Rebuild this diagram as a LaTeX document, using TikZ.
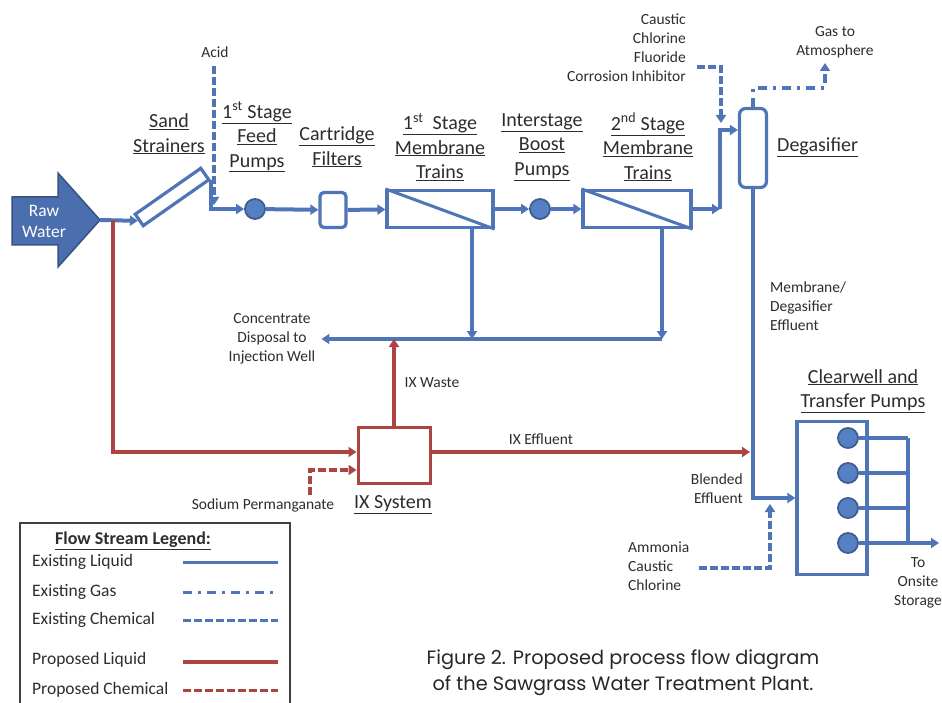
\documentclass[tikz,border=0pt]{standalone}
\usepackage{fontspec}
\setmainfont{Carlito}
\newfontfamily\capfont{Poppins}
\usetikzlibrary{arrows.meta,calc}
\definecolor{flowblue}{RGB}{79,116,184}
\definecolor{pumpblue}{RGB}{86,128,196}
\definecolor{flowred}{RGB}{172,68,66}
\definecolor{txtgray}{RGB}{45,45,45}
\tikzset{
    tip/.style={-{Triangle[length=8pt,width=10pt]}},
    liquid/.style={draw=flowblue,line width=4pt},
    gas/.style={draw=flowblue,line width=4pt,dash pattern=on 9pt off 6pt on 3pt off 6pt},
    chem/.style={draw=flowblue,line width=4pt,dash pattern=on 8pt off 3pt},
    propliq/.style={draw=flowred,line width=4pt},
    propchem/.style={draw=flowred,line width=4pt,dash pattern=on 8pt off 3pt},
    pump/.style={circle,draw=flowblue!80!black,fill=pumpblue,line width=1.8pt,minimum size=20pt,inner sep=0pt},
    unitbox/.style={draw=flowblue,fill=white,line width=3.2pt,inner sep=0pt},
    unitlbl/.style={font=\fontsize{20}{24.5}\selectfont,text=txtgray,align=center,inner sep=0pt},
    smalllbl/.style={font=\fontsize{15.5}{19}\selectfont,text=txtgray,align=center,inner sep=0pt},
    legendlbl/.style={font=\fontsize{17.5}{19}\selectfont,text=txtgray,anchor=west,inner sep=0pt},
  }

\begin{document}
\begin{tikzpicture}[x=1pt,y=-1pt]
  \useasboundingbox (0,0) rectangle (942,703);

  %RAW WATER
  \draw[draw=flowblue!70!black,fill=flowblue!95!black,line width=1.5pt]
      (12,197) -- (58,197) -- (58,173) -- (100,220) -- (58,267) -- (58,245) -- (12,245) -- cycle;
  \coordinate (rawtip) at (100,220);
  \coordinate (split) at (113,220);
  \node[font=\fontsize{17.5}{21}\selectfont,align=center,inner sep=0pt,text=white] (rawlbl) at (44,221) {Raw\\Water};

  %UNITS ON THE MAIN LINE
  \node[unitbox,rotate=35,minimum width=80pt,minimum height=14pt] (strainer) at (172,197) {};
  \node[pump] (feedpump) at (255,209) {};
  \node[unitbox,rounded corners=4pt,minimum width=26pt,minimum height=35pt] (cartridge) at (333,210) {};
  \node[unitbox,minimum width=106pt,minimum height=37pt] (memA) at (440,209) {};
  \draw[flowblue,line width=3pt] (memA.north west) -- (memA.south east);
  \node[pump] (boost) at (540,209) {};
  \node[unitbox,minimum width=108pt,minimum height=37pt] (memB) at (637,209) {};
  \draw[flowblue,line width=3pt] (memB.north west) -- (memB.south east);
  \node[unitbox,rounded corners=6pt,minimum width=27pt,minimum height=79pt] (degas) at (753,148) {};

  %LABELS OF THE UNITS
  \node[unitlbl] (strainlbl) at (169,134) {\underline{Sand}\\\underline{Strainers}};
  \node[unitlbl] (feedlbl) at (257,137) {\underline{1\textsuperscript{st} Stage}\\\underline{Feed}\\\underline{Pumps}};
  \node[unitlbl] (cartlbl) at (337,147) {\underline{Cartridge}\\\underline{Filters}};
  \node[unitlbl] (memAlbl) at (440,147) {\underline{1\textsuperscript{st}\ \ Stage}\\\underline{Membrane}\\\underline{Trains}};
  \node[unitlbl] (boostlbl) at (542,147) {\underline{Interstage}\\\underline{Boost}\\\underline{Pumps}};
  \node[unitlbl] (memBlbl) at (648,147) {\underline{2\textsuperscript{nd} Stage}\\\underline{Membrane}\\\underline{Trains}};
  \node[unitlbl,anchor=west] (degaslbl) at (777,147) {\underline{Degasifier}};

  %MAIN LINE
  \draw[liquid,tip] (rawtip) -- (strainer.west);
  \draw[liquid,tip] (strainer.south east) |- (feedpump);
  \draw[liquid,tip] (feedpump) -- (cartridge);
  \draw[liquid,tip] (cartridge) -- (memA);
  \draw[liquid,tip] (memA) -- (boost);
  \draw[liquid,tip] (boost) -- (memB);
  \coordinate (riser) at (720,130);
  \draw[liquid,tip] (memB.east) -- (memB.east -| riser);
  \draw[liquid,tip] (memB.east -| riser) -- (riser) -- (riser -| degas.west);

  %CHEMICALS AND GAS
  \node[smalllbl] (acidlbl) at (215,52) {Acid};
  \coordinate (acidin) at (214,205);
  \draw[chem,tip] (acidin |- 0,66) -- (acidin);
  \node[smalllbl,align=right,anchor=east] (chemlbl) at (686,48) {Caustic\\Chlorine\\Fluoride\\Corrosion Inhibitor};
  \coordinate (chemin) at (721,123);
  \draw[chem,tip] (697,67) -| (chemin);
  \node[smalllbl] (gaslbl) at (835,42) {Gas to\\Atmosphere};
  \coordinate (vent) at (825,88);
  \coordinate (gasout) at (825,63);
  \draw[gas,tip] (degas.north) |- (vent) -- (gasout);

  %CONCENTRATE
  \node[smalllbl] (conclbl) at (272,339) {Concentrate\\Disposal to\\Injection Well};
  \coordinate (concA) at (472,339);
  \coordinate (concB) at (662,339);
  \draw[liquid,tip] (memA.south -| concA) -- (concA);
  \draw[liquid,tip] (memB.south -| concB) -- (concB);
  \draw[liquid,tip] (concB) -- ([xshift=6pt]conclbl.east);

  %IX SYSTEM
  \node[draw=flowred,fill=white,line width=3pt,minimum width=72pt,minimum height=56pt] (ix) at (394,455) {};
  \node[unitlbl] (ixlbl) at (393,505) {\underline{IX System}};
  \node[smalllbl] (ixwastelbl) at (432,383) {IX Waste};
  \node[smalllbl] (ixefflbl) at (541,439) {IX Effluent};
  \node[smalllbl] (kmnlbl) at (263,505) {Sodium Permanganate};
  \draw[propliq,tip] (split) |- ([yshift=3pt]ix.west);
  \draw[propliq,tip] (ix.north) -- (ix.north |- concA);
  \draw[propchem,tip] (310,495) |- ([yshift=-15pt]ix.west);
  \draw[propliq,tip,shorten >=3pt] ([yshift=3pt]ix.east) -- ([yshift=3pt]ix.east -| degas);

  %CLEARWELL
  \node[unitbox,minimum width=70pt,minimum height=153pt] (clearwell) at (832,498) {};
  \node[unitlbl] (clearlbl) at (863,391) {\underline{Clearwell and}\\\underline{Transfer Pumps}};
  \node[smalllbl,align=left,anchor=west] (memefflbl) at (770,306) {Membrane/\\Degasifier\\Effluent};
  \node[smalllbl,align=right,anchor=east] (blendlbl) at (743,489) {Blended\\Effluent};
  \node[smalllbl,align=left,anchor=west] (ammlbl) at (628,566) {Ammonia\\Caustic\\Chlorine};
  \draw[liquid,tip] (degas.south) |- (clearwell.west);
  \coordinate (ammin) at (770,504);
  \draw[chem,tip] ([xshift=10pt,yshift=-2pt]ammlbl.east) -| (ammin);
  \coordinate (hdr) at (908,438);
  \foreach \y [count=\i] in {438,473,508,543}
    \node[pump] (cw\i) at (848,\y) {};
  \foreach \i in {1,2,3}
    \draw[liquid] (cw\i) -- (cw\i -| hdr);
  \draw[liquid] (hdr) -- (hdr |- cw4);
  \coordinate (storage) at (939,543);
  \draw[liquid,tip] (cw4) -- (storage);
  \node[smalllbl] (storelbl) at (918,583) {To\\Onsite\\Storage};

  %LEGEND
  \draw[black!75,line width=1.5pt] (20,703) |- (290,523) -- (290,703);
  \node[font=\fontsize{18}{20}\selectfont\bfseries,text=txtgray,inner sep=0pt] (legtitle) at (133,541) {\underline{Flow Stream Legend:}};
  \node[legendlbl] (leg1) at (32,562) {Existing Liquid};
  \node[legendlbl] (leg2) at (32,592) {Existing Gas};
  \node[legendlbl] (leg3) at (32,620) {Existing Chemical};
  \node[legendlbl] (leg4) at (32,660) {Proposed Liquid};
  \node[legendlbl] (leg5) at (32,690) {Proposed Chemical};
  \draw[liquid,line width=3pt] (183,562) -- (278,562);
  \draw[gas,line width=3pt] (183,592) -- (278,592);
  \draw[chem,line width=3pt] (183,620) -- (278,620);
  \draw[propliq,line width=3.5pt] (183,662) -- (278,662);
  \draw[propchem,line width=3pt] (183,690) -- (278,690);

  %CAPTION
  \node[font=\capfont\fontsize{19.3}{26}\selectfont,text=black!85,align=center,inner sep=0pt] (caption) at (623,673)
    {Figure 2. Proposed process flow diagram\\of the Sawgrass Water Treatment Plant.};
\end{tikzpicture}
\end{document}
